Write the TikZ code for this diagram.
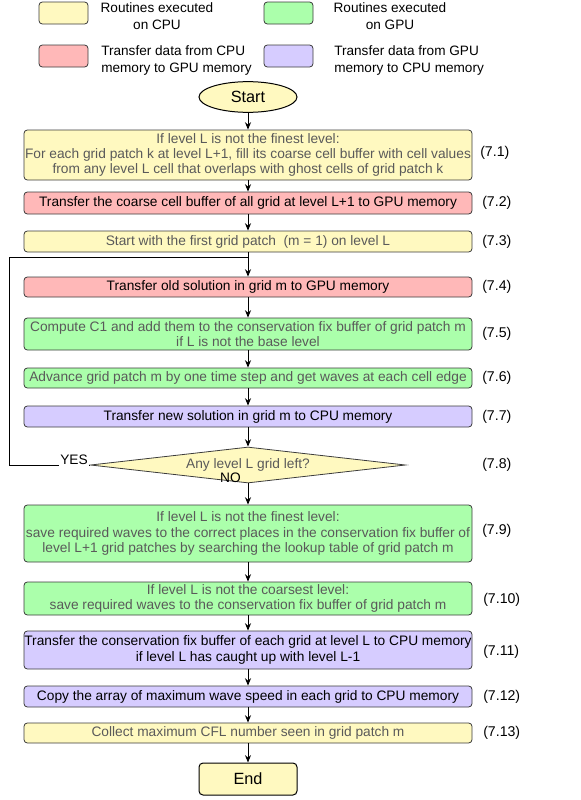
\documentclass[tikz,border=0pt]{standalone}
\usepackage{fontspec}
\setmainfont{Liberation Sans}
\usetikzlibrary{shapes.geometric,arrows.meta}

\definecolor{cpuyellow}{RGB}{255,249,192}
\definecolor{gpugreen}{RGB}{171,255,171}
\definecolor{togpured}{RGB}{255,184,184}
\definecolor{tocpupurple}{RGB}{214,204,255}
\definecolor{boxline}{RGB}{60,60,60}
\definecolor{txtgray}{RGB}{90,90,90}

\begin{document}
\begin{tikzpicture}[x=0.75pt,y=0.75pt,yscale=-1,xscale=1,
  font=\fontsize{10.3}{11.4}\selectfont,
  box/.style={draw=boxline,line width=0.6pt,rounded corners=2.5pt,minimum width=336pt,inner sep=0pt,align=center},
  cpu/.style={box,fill=cpuyellow,text=txtgray},
  gpu/.style={box,fill=gpugreen,text=txtgray},
  togpu/.style={box,fill=togpured},
  tocpu/.style={box,fill=tocpupurple},
  keybox/.style={draw=boxline,line width=0.6pt,rounded corners=2.5pt,minimum width=36.75pt,minimum height=16.5pt,inner sep=0pt},
  keytext/.style={inner sep=0pt,font=\fontsize{10.2}{12.8}\selectfont},
  tag/.style={anchor=west,inner sep=0pt,font=\fontsize{10.6}{12}\selectfont},
  flow/.style={line width=0.75pt,-{Stealth[length=5.5pt,width=4.5pt]}}]
\useasboundingbox (0,0) rectangle (581,800);

%Legend
\node [keybox,fill=cpuyellow] (keycpu) at (63.5,13) {};
\node [keytext,align=center] (keycputxt) at (157,16.5) {Routines executed\\on CPU};
\node [keybox,fill=gpugreen] (keygpu) at (288.5,13) {};
\node [keytext,align=center] (keygputxt) at (390,16.5) {Routines executed\\on GPU};
\node [keybox,fill=togpured] (keytogpu) at (63.5,56) {};
\node [keytext,align=left,anchor=west] (keytogputxt) at (101,60.5) {Transfer data from CPU\\memory to GPU memory};
\node [keybox,fill=tocpupurple] (keytocpu) at (288.5,56) {};
\node [keytext,align=left,anchor=west] (keytocputxt) at (334,60.5) {Transfer data from GPU\\memory to CPU memory};

%Start and End
\node [ellipse,draw=black,line width=0.75pt,fill=cpuyellow,minimum width=73.5pt,minimum height=23pt,inner sep=0pt,font=\fontsize{12.2}{13}\selectfont] (start) at (248,97) {Start};
\node [draw=black,line width=0.75pt,rounded corners=3pt,fill=cpuyellow,minimum width=73.5pt,minimum height=24pt,inner sep=0pt,font=\fontsize{12.2}{13}\selectfont] (end) at (248,779) {End};

%Steps
\node [cpu,minimum height=37.5pt] (s1) at (248,155) {If level L is not the finest level:\\For each grid patch k at level L+1, fill its coarse cell buffer with cell values\\from any level L cell that overlaps with ghost cells of grid patch k};
\node [togpu,minimum height=16.5pt] (s2) at (248,203) {Transfer the coarse cell buffer of all grid at level L+1 to GPU memory};
\node [cpu,minimum height=15.75pt] (s3) at (248,241.5) {Start with the first grid patch\ \ (m = 1) on level L};
\node [togpu,minimum height=15pt] (s4) at (248,287) {Transfer old solution in grid m to GPU memory};
\node [gpu,minimum height=24pt] (s5) at (248,334) {Compute C1 and add them to the conservation fix buffer of grid patch m\\if L is not the base level};
\node [gpu,minimum height=15pt] (s6) at (248,378) {Advance grid patch m by one time step and get waves at each cell edge};
\node [tocpu,minimum height=15.75pt] (s7) at (248,416.5) {Transfer new solution in grid m to CPU memory};
\node [diamond,draw=boxline,line width=0.6pt,fill=cpuyellow,text=txtgray,aspect=8.75,minimum width=236.25pt,minimum height=27pt,inner sep=0pt] (s8) at (248,465) {Any level L grid left?};
\node [gpu,minimum height=42.75pt] (s9) at (248,533.5) {If level L is not the finest level:\\save required waves to the correct places in the conservation fix buffer of\\level L+1 grid patches by searching the lookup table of grid patch m};
\node [gpu,minimum height=24.75pt] (s10) at (248,598.5) {If level L is not the coarsest level:\\save required waves to the conservation fix buffer of grid patch m};
\node [tocpu,minimum height=28.5pt] (s11) at (248,650) {Transfer the conservation fix buffer of each grid at level L to CPU memory\\if level L has caught up with level L-1};
\node [tocpu,minimum height=15.75pt] (s12) at (248,696.5) {Copy the array of maximum wave speed in each grid to CPU memory};
\node [cpu,minimum height=15pt] (s13) at (248,733) {Collect maximum CFL number seen in grid patch m};

%Equation tags
\node [tag] (t1) at (480,153) {(7.1)};
\node [tag] (t2) at (482,203) {(7.2)};
\node [tag] (t3) at (482,241.5) {(7.3)};
\node [tag] (t4) at (482,287) {(7.4)};
\node [tag] (t5) at (482,334) {(7.5)};
\node [tag] (t6) at (482,378) {(7.6)};
\node [tag] (t7) at (482,416.5) {(7.7)};
\node [tag] (t8) at (482,465) {(7.8)};
\node [tag] (t9) at (482,531) {(7.9)};
\node [tag] (t10) at (483,600) {(7.10)};
\node [tag] (t11) at (483,652) {(7.11)};
\node [tag] (t12) at (483,696.5) {(7.12)};
\node [tag] (t13) at (483,733) {(7.13)};

%Arrows
\draw [flow] (start) -- (s1);
\draw [flow] (s1) -- (s2);
\draw [flow] (s2) -- (s3);
\draw [flow] (s3) -- (s4);
\draw [flow] (s4) -- (s5);
\draw [flow] (s5) -- (s6);
\draw [flow] (s6) -- (s7);
\draw [flow] (s7) -- (s8);
\draw [flow] (s8) -- (s9);
\draw [flow] (s9) -- (s10);
\draw [flow] (s10) -- (s11);
\draw [flow] (s11) -- (s12);
\draw [flow] (s12) -- (s13);
\draw [flow] (s13) -- (end);

%Loop back
\coordinate (back) at (9,465);
\coordinate (join) at (248,257);
\draw [line width=0.75pt] (s8.west) -- (back) |- (join);
\node [fill=white,inner sep=1pt,anchor=south] (yes) at (74,466) {YES};
\node [inner sep=0pt,anchor=east] (no) at (241,478) {NO};

\end{tikzpicture}
\end{document}
